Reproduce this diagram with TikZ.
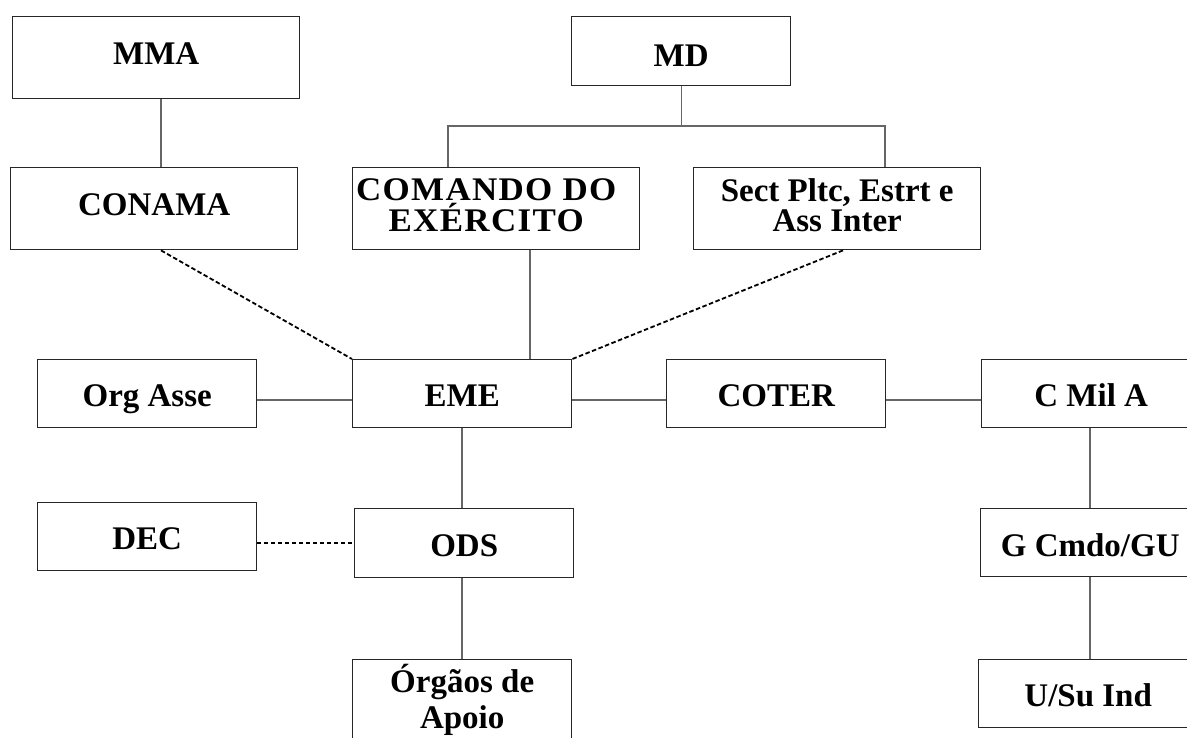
\documentclass[tikz,border=0pt]{standalone}
\usepackage{fontspec}
\setmainfont{Liberation Serif}
\newfontfamily\spaced[LetterSpace=4,FakeStretch=1.06]{Liberation Serif}
\usepackage{tikz}

\begin{document}
\begin{tikzpicture}
	[x=1pt,y=-1pt,
	b/.style={draw=black!85,line width=1.4pt,inner sep=0pt,anchor=north west,align=center,
		font=\bfseries\fontsize{33}{32}\selectfont,minimum width=219,minimum height=68},
	s/.style={b,text height=26pt,text depth=0pt},
	wide/.style={minimum width=287,minimum height=82},
	sl/.style={draw=black!60,line width=1.3pt},
	dl/.style={draw=black,line width=1.8pt,dash pattern=on 4.5pt off 2.5pt}]

	\useasboundingbox (0,0) rectangle (1187,738);
	\clip (0,0) rectangle (1187,738);

	\node[b,wide,text height=22pt,text depth=8pt] (mma) at (12,16) {MMA};
	\node[b,minimum height=69,text height=30pt,text depth=0pt] (md) at (571,16) {MD};

	\node[b,wide,text height=22pt,text depth=8pt] (conama) at (10,167) {CONAMA};
	\node[b,wide,text depth=8pt,font=\bfseries\spaced\fontsize{33}{31}\selectfont] (cmdo) at (352,167)
		{COMANDO DO\hspace*{20pt}\\EXÉRCITO\hspace*{20pt}};
	\node[b,wide,text depth=7pt,font=\bfseries\fontsize{33}{30}\selectfont] (sect) at (693,167) {Sect Pltc, Estrt e\\Ass Inter};

	\node[s] (org) at (37,359) {Org Asse};
	\node[s] (eme) at (352,359) {EME};
	\node[s] (coter) at (666,359) {COTER};
	\node[s] (cmil) at (981,359) {C Mil A};

	\node[s] (dec) at (37,502) {DEC};
	\node[s,minimum height=69] (ods) at (354,508) {ODS};
	\node[s,text height=28pt] (gcmdo) at (980,508) {G Cmdo/GU};

	\node[b,minimum height=81,font=\bfseries\fontsize{33}{36}\selectfont] (apoio) at (352,659) {Órgãos de\\Apoio};
	\node[s] (usu) at (978,659) {U/Su Ind};

	\draw[sl] (mma.south -| 161,0) -- (conama.north -| 161,0);
	\draw[sl] (cmdo.north -| 448,0) |- (md.south |- 0,126) -| (sect.north -| 885,0);
	\draw[sl] (md.south) -- (md.south |- 0,126);
	\draw[sl] (cmdo.south -| 530,0) -- (eme.north -| 530,0);

	\draw[dl] (conama.south -| 161,0) -- (eme.north west);
	\draw[dl] (sect.south -| 843,0) -- (eme.north east);

	\draw[sl] (org.east |- 0,400) -- (eme.west |- 0,400);
	\draw[sl] (eme.east |- 0,400) -- (coter.west |- 0,400);
	\draw[sl] (coter.east |- 0,400) -- (cmil.west |- 0,400);

	\draw[sl] (eme.south -| 462,0) -- (ods.north -| 462,0);
	\draw[dl,line width=1.1pt,dash pattern=on 4pt off 3pt] (dec.east |- 0,543) -- (ods.west |- 0,543);
	\draw[sl] (ods.south -| 462,0) -- (apoio.north -| 462,0);

	\draw[sl] (cmil.south -| 1090,0) -- (gcmdo.north -| 1090,0);
	\draw[sl] (gcmdo.south -| 1090,0) -- (usu.north -| 1090,0);

\end{tikzpicture}
\end{document}
